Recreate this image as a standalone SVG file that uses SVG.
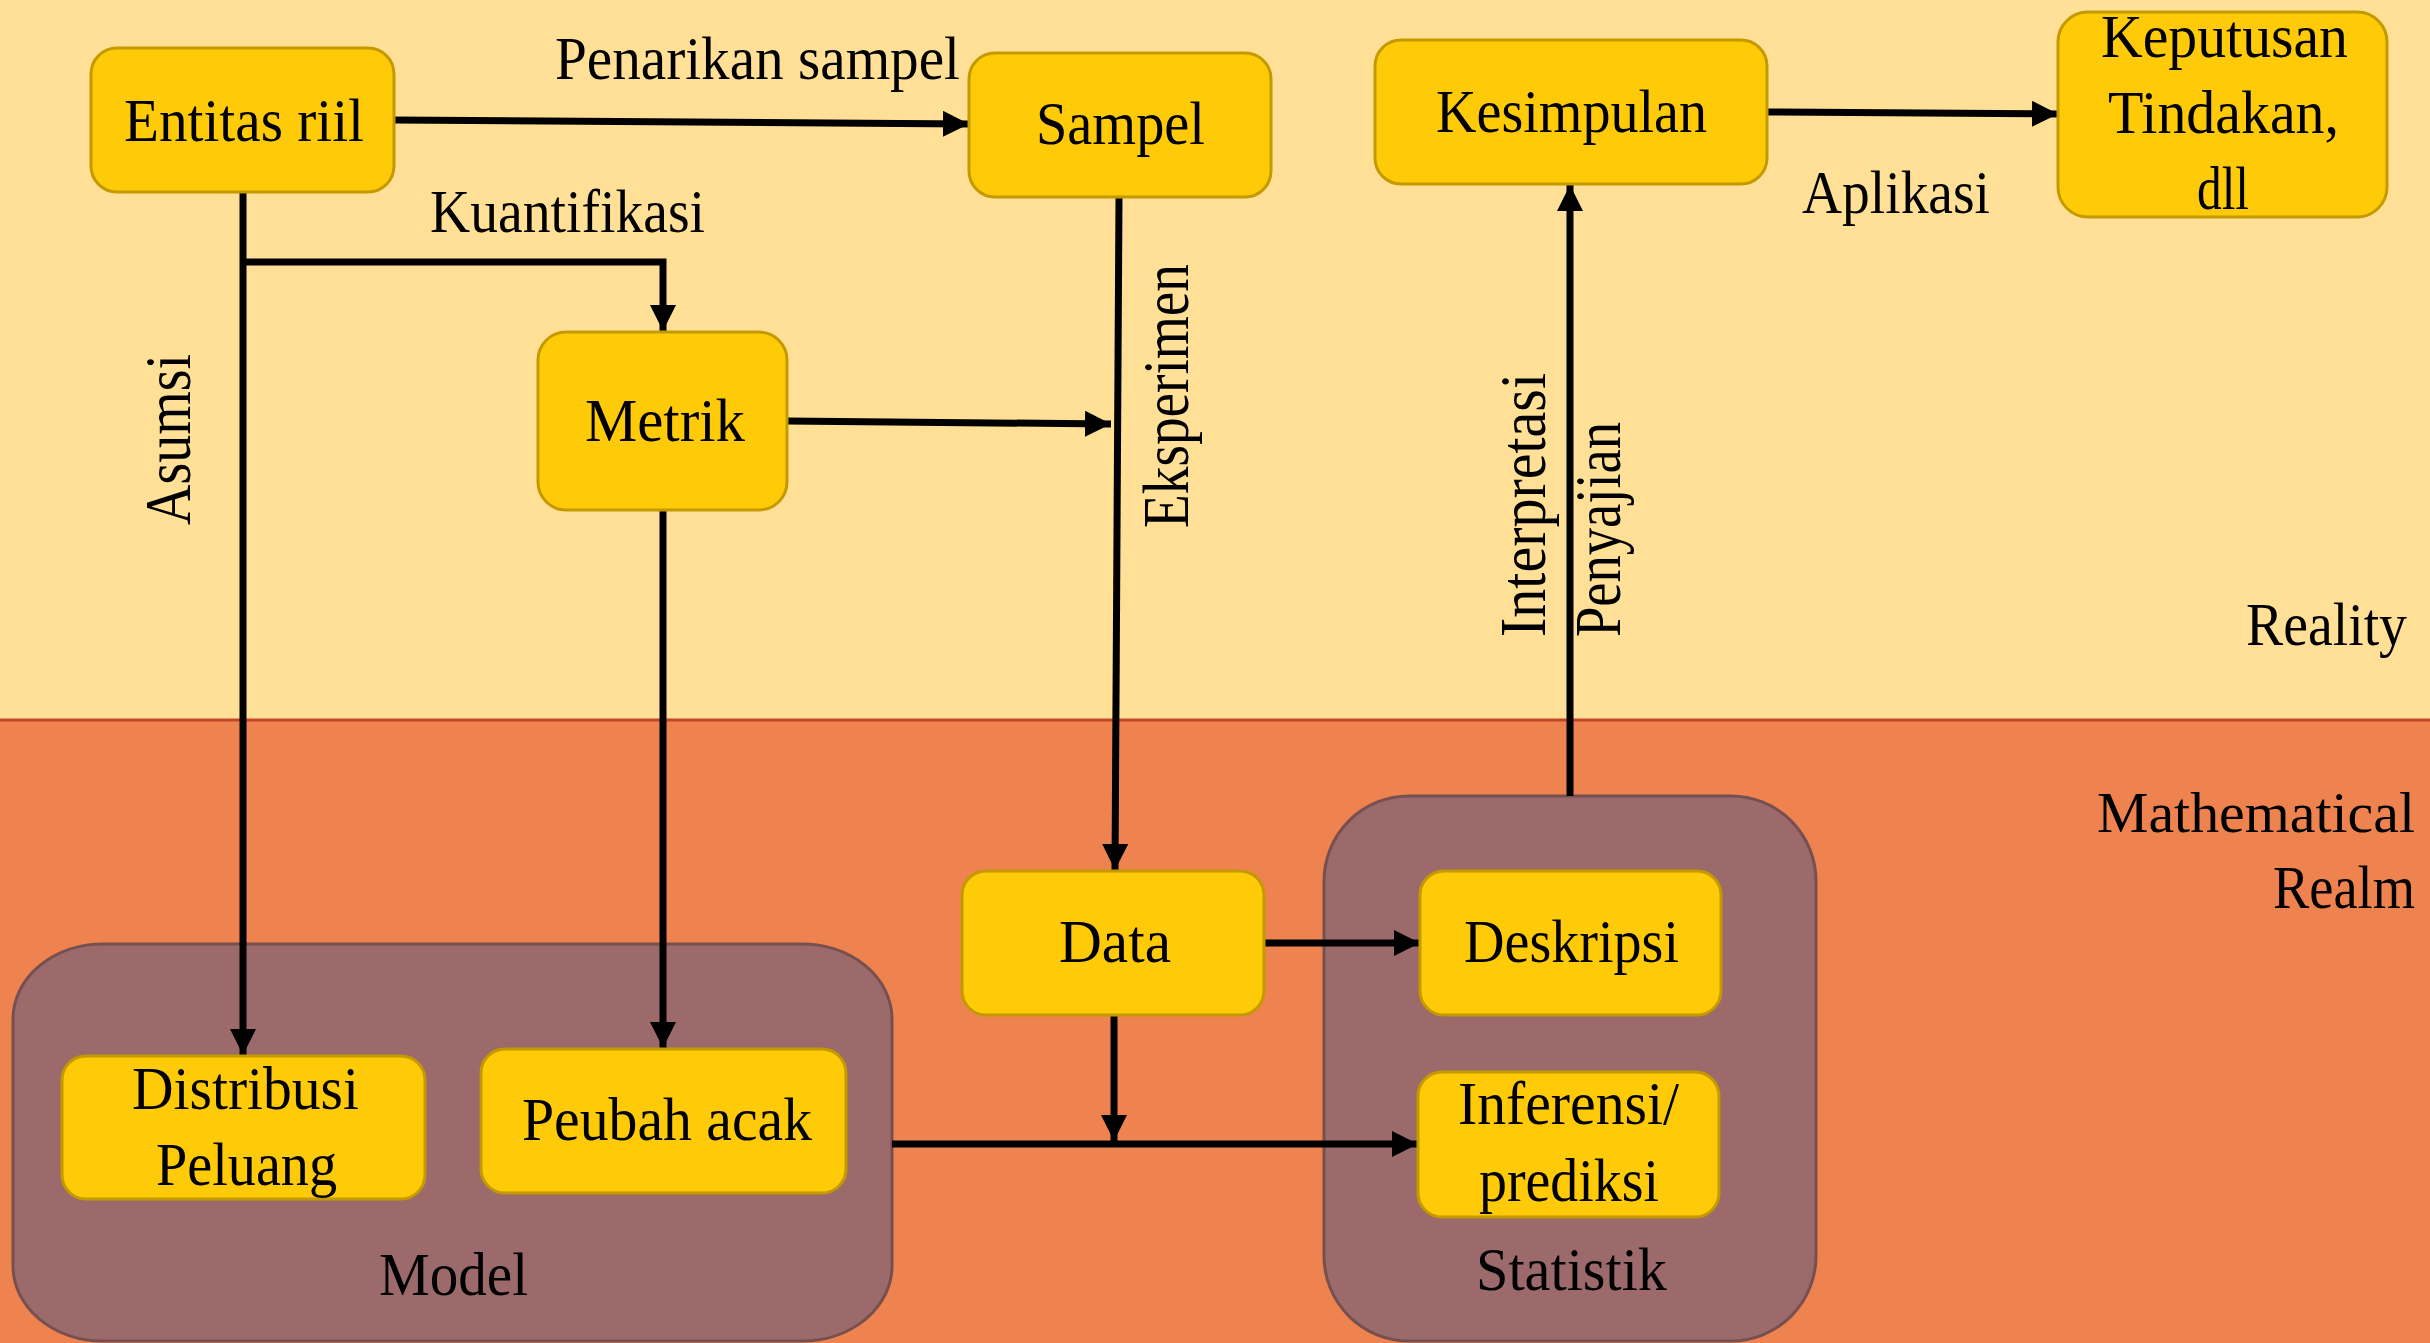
<svg xmlns="http://www.w3.org/2000/svg" width="2430" height="1343" viewBox="0 0 2430 1343">
<defs>
<marker id="ah" markerUnits="userSpaceOnUse" markerWidth="28" markerHeight="26" refX="26" refY="13" orient="auto">
<path d="M0,0 L26,13 L0,26 Z" fill="#000"/>
</marker>
<style>
.box{fill:#FFCA08;stroke:#C49A00;stroke-width:3}
.cont{fill:#9C6A6A;stroke:#765050;stroke-width:3}
.t{font-family:"Liberation Serif",serif;font-size:62px;fill:#000}
.r{font-family:"Liberation Serif",serif;font-size:66px;fill:#000}
.c{fill:none;stroke:#000;stroke-width:7}
</style>
</defs>
<rect x="0" y="0" width="2430" height="720" fill="#FFE096"/>
<rect x="0" y="720" width="2430" height="623" fill="#EF834F"/>
<line x1="0" y1="720" x2="2430" y2="720" stroke="#C4462A" stroke-width="3"/>

<g id="region-labels">
<text class="t" x="2246" y="645" textLength="161" lengthAdjust="spacingAndGlyphs">Reality</text>
<text class="t" x="2097" y="832" font-size="58" style="font-size:58px" textLength="318" lengthAdjust="spacingAndGlyphs">Mathematical</text>
<text class="t" x="2273" y="908" textLength="142" lengthAdjust="spacingAndGlyphs">Realm</text>
</g>

<g id="model">
<rect class="cont" x="13" y="944" width="879" height="397" rx="90" ry="75"/>
<text class="t" x="379" y="1295" textLength="149" lengthAdjust="spacingAndGlyphs">Model</text>
</g>
<g id="statistik">
<rect class="cont" x="1324" y="796" width="492" height="545" rx="85" ry="85"/>
<text class="t" x="1476" y="1290" textLength="191" lengthAdjust="spacingAndGlyphs">Statistik</text>
</g>

<g id="connectors">
<path class="c" d="M394,120 L969,124" marker-end="url(#ah)"/>
<path class="c" d="M243,192 L243,1055" marker-end="url(#ah)"/>
<path class="c" d="M243,262 L663,262 L663,331" marker-end="url(#ah)"/>
<path class="c" d="M663,510 L663,1048" marker-end="url(#ah)"/>
<path class="c" d="M787,421 L1111,424" marker-end="url(#ah)"/>
<path class="c" d="M1119,197 L1115,870" marker-end="url(#ah)"/>
<path class="c" d="M1265,943 L1420,943" marker-end="url(#ah)"/>
<path class="c" d="M1114,1015 L1114,1141" marker-end="url(#ah)"/>
<path class="c" d="M892,1144 L1418,1144" marker-end="url(#ah)"/>
<path class="c" d="M1570,796 L1570,185" marker-end="url(#ah)"/>
<path class="c" d="M1768,112 L2058,114" marker-end="url(#ah)"/>
<text class="t" x="555" y="79" textLength="405" lengthAdjust="spacingAndGlyphs">Penarikan sampel</text>
<text class="t" x="430" y="232" textLength="275" lengthAdjust="spacingAndGlyphs">Kuantifikasi</text>
<text class="t" x="1802" y="213" textLength="188" lengthAdjust="spacingAndGlyphs">Aplikasi</text>
<text class="r" transform="translate(190,525) rotate(-90)" textLength="171" lengthAdjust="spacingAndGlyphs">Asumsi</text>
<text class="r" transform="translate(1188,528) rotate(-90)" textLength="264" lengthAdjust="spacingAndGlyphs">Eksperimen</text>
<text class="r" transform="translate(1545,637) rotate(-90)" textLength="264" lengthAdjust="spacingAndGlyphs">Interpretasi</text>
<text class="r" transform="translate(1620,637) rotate(-90)" textLength="215" lengthAdjust="spacingAndGlyphs">Penyajian</text>
</g>

<g id="entitas">
<rect class="box" x="91" y="48" width="303" height="144" rx="26"/>
<text class="t" x="124" y="141" textLength="240" lengthAdjust="spacingAndGlyphs">Entitas riil</text>
</g>
<g id="sampel">
<rect class="box" x="969" y="53" width="302" height="144" rx="26"/>
<text class="t" x="1036" y="144" textLength="169" lengthAdjust="spacingAndGlyphs">Sampel</text>
</g>
<g id="kesimpulan">
<rect class="box" x="1375" y="40" width="392" height="144" rx="26"/>
<text class="t" x="1436" y="132" textLength="271" lengthAdjust="spacingAndGlyphs">Kesimpulan</text>
</g>
<g id="keputusan">
<rect class="box" x="2058" y="12" width="329" height="205" rx="30"/>
<text class="t" x="2101" y="57" textLength="247" lengthAdjust="spacingAndGlyphs">Keputusan</text>
<text class="t" x="2108" y="133" textLength="231" lengthAdjust="spacingAndGlyphs">Tindakan,</text>
<text class="t" x="2197" y="209" textLength="52" lengthAdjust="spacingAndGlyphs">dll</text>
</g>
<g id="metrik">
<rect class="box" x="538" y="332" width="249" height="178" rx="28"/>
<text class="t" x="585" y="441" textLength="160" lengthAdjust="spacingAndGlyphs">Metrik</text>
</g>
<g id="distribusi">
<rect class="box" x="62" y="1056" width="363" height="143" rx="24"/>
<text class="t" x="132" y="1109" textLength="227" lengthAdjust="spacingAndGlyphs">Distribusi</text>
<text class="t" x="156" y="1185" textLength="181" lengthAdjust="spacingAndGlyphs">Peluang</text>
</g>
<g id="peubah">
<rect class="box" x="481" y="1049" width="365" height="144" rx="24"/>
<text class="t" x="522" y="1140" textLength="290" lengthAdjust="spacingAndGlyphs">Peubah acak</text>
</g>
<g id="data">
<rect class="box" x="962" y="871" width="302" height="144" rx="24"/>
<text class="t" x="1059" y="962" textLength="112" lengthAdjust="spacingAndGlyphs">Data</text>
</g>
<g id="deskripsi">
<rect class="box" x="1420" y="871" width="301" height="144" rx="24"/>
<text class="t" x="1464" y="962" textLength="215" lengthAdjust="spacingAndGlyphs">Deskripsi</text>
</g>
<g id="inferensi">
<rect class="box" x="1418" y="1072" width="301" height="145" rx="24"/>
<text class="t" x="1458" y="1124" textLength="221" lengthAdjust="spacingAndGlyphs">Inferensi/</text>
<text class="t" x="1479" y="1201" textLength="180" lengthAdjust="spacingAndGlyphs">prediksi</text>
</g>
</svg>
